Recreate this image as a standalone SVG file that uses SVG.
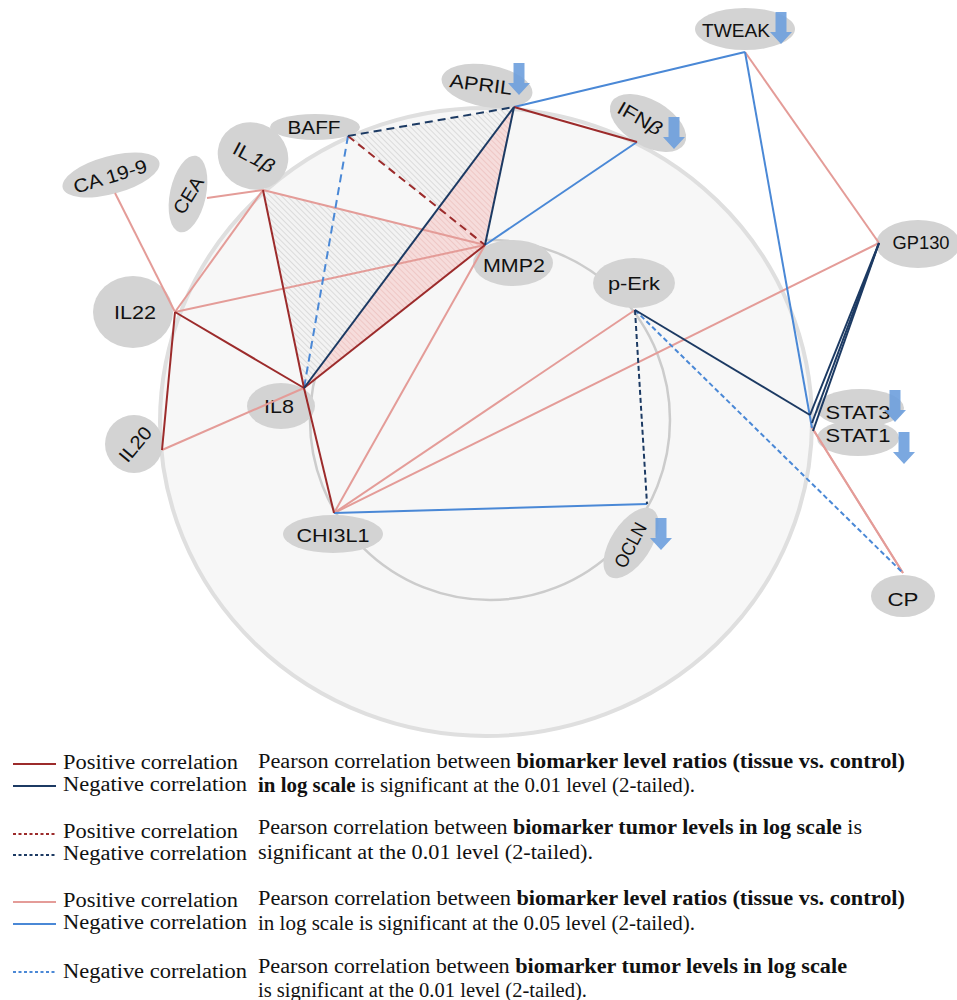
<svg xmlns="http://www.w3.org/2000/svg" xmlns:xlink="http://www.w3.org/1999/xlink" width="957" height="1000" viewBox="0 0 957 1000">
<style>
.nd{fill:#d3d3d3}
.lbl{font-family:"Liberation Sans",Arial,sans-serif;font-size:19px;fill:#111;text-anchor:middle}
.e{fill:none;stroke-width:2}
.dr{stroke:#9c2b2b}
.db{stroke:#1c3a63}
.lr{stroke:#e49c98}
.lb{stroke:#4a88d6}
.dl{stroke-dasharray:8 5}
.ds{stroke-dasharray:5 3}
.dot{fill:none;stroke-width:2;stroke-dasharray:3 2.5}
.lg{font-family:"Liberation Serif","Times New Roman",serif;font-size:20px;fill:#111}
.b{font-weight:bold}
.arr{fill:#6d9fdd;opacity:0.9}
</style>
<defs>
<pattern id="hg" width="4" height="4" patternUnits="userSpaceOnUse" patternTransform="rotate(-45)">
<rect width="4" height="4" fill="#f3f3f3"/>
<line x1="0" y1="0" x2="0" y2="4" stroke="#c4c4c4" stroke-width="1"/>
</pattern>
<pattern id="hp" width="4" height="4" patternUnits="userSpaceOnUse" patternTransform="rotate(-45)">
<rect width="4" height="4" fill="#f6dcdb"/>
<line x1="0" y1="0" x2="0" y2="4" stroke="#e6b2af" stroke-width="1"/>
</pattern>
<path id="arr" d="M-5.5,0 H5.5 V20 H11 L0,32 L-11,20 H-5.5 Z"/>
</defs>
<rect width="957" height="1000" fill="#ffffff"/>
<g id="background">
<ellipse cx="486" cy="422" rx="326" ry="314" fill="#f7f7f7" stroke="#dfdfdf" stroke-width="4"/>
<circle cx="490" cy="420" r="180" fill="none" stroke="#cccccc" stroke-width="2.5"/>
<polygon points="263,190 304,388 485,245" fill="url(#hg)"/>
<polygon points="348,136 514,107 485,245" fill="url(#hg)"/>
<polygon points="514,107 485,245 304,388" fill="url(#hp)"/>
</g>
<g id="n-ca199"><ellipse class="nd" cx="111" cy="175" rx="50" ry="19" transform="rotate(-15 111 175)"/><text class="lbl" x="110" y="183" textLength="76" lengthAdjust="spacingAndGlyphs" transform="rotate(-17 110 176)">CA 19-9</text></g>
<g id="n-cea"><ellipse class="nd" cx="188" cy="194" rx="18" ry="39" transform="rotate(12 188 194)"/><text class="lbl" x="188" y="202" textLength="40" lengthAdjust="spacingAndGlyphs" transform="rotate(-58 188 195)">CEA</text></g>
<g id="n-il1b"><ellipse class="nd" cx="253" cy="156" rx="36" ry="33" transform="rotate(30 253 156)"/><text class="lbl" x="254" y="164" textLength="44" lengthAdjust="spacingAndGlyphs" transform="rotate(28 254 157)">IL<tspan font-style="italic" dx="2">1β</tspan></text></g>
<g id="n-baff"><ellipse class="nd" cx="315" cy="127" rx="45" ry="13"/><text class="lbl" x="314" y="134" textLength="53" lengthAdjust="spacingAndGlyphs">BAFF</text></g>
<g id="n-april"><ellipse class="nd" cx="487" cy="86" rx="46" ry="21" transform="rotate(10 487 86)"/><text class="lbl" x="481" y="91" textLength="63" lengthAdjust="spacingAndGlyphs" transform="rotate(7 481 84)">APRIL</text><use href="#arr" class="arr" x="519" y="63"/></g>
<g id="n-tweak"><ellipse class="nd" cx="745" cy="29" rx="50" ry="21"/><text class="lbl" x="736" y="37" textLength="68" lengthAdjust="spacingAndGlyphs">TWEAK</text><use href="#arr" class="arr" x="781" y="12"/></g>
<g id="n-ifnb"><ellipse class="nd" cx="648" cy="123" rx="42" ry="23" transform="rotate(30 648 123)"/><text class="lbl" x="640" y="125" textLength="48" lengthAdjust="spacingAndGlyphs" transform="rotate(30 640 118)">IFN<tspan font-style="italic">β</tspan></text><use href="#arr" class="arr" x="674" y="117"/></g>
<g id="n-mmp2"><ellipse class="nd" cx="513" cy="263" rx="40" ry="23"/><text class="lbl" x="514" y="272" textLength="62" lengthAdjust="spacingAndGlyphs">MMP2</text></g>
<g id="n-perk"><ellipse class="nd" cx="634" cy="283" rx="41" ry="25"/><text class="lbl" x="634" y="290" textLength="52" lengthAdjust="spacingAndGlyphs">p-Erk</text></g>
<g id="n-gp130"><ellipse class="nd" cx="918" cy="244" rx="42" ry="24"/><text class="lbl" x="921" y="249" textLength="57" lengthAdjust="spacingAndGlyphs">GP130</text></g>
<g id="n-stat"><ellipse class="nd" cx="860" cy="408" rx="44" ry="19"/><ellipse class="nd" cx="858" cy="438" rx="41" ry="18"/><text class="lbl" x="858" y="419" textLength="65" lengthAdjust="spacingAndGlyphs">STAT3</text><text class="lbl" x="858" y="442" textLength="65" lengthAdjust="spacingAndGlyphs">STAT1</text><use href="#arr" class="arr" x="895" y="390"/><use href="#arr" class="arr" x="904" y="432"/></g>
<g id="n-cp"><ellipse class="nd" cx="903" cy="596" rx="32" ry="21"/><text class="lbl" x="903" y="606" textLength="31" lengthAdjust="spacingAndGlyphs">CP</text></g>
<g id="n-ocln"><ellipse class="nd" cx="631" cy="543" rx="40" ry="20" transform="rotate(-57 631 543)"/><text class="lbl" x="630" y="552" textLength="48" lengthAdjust="spacingAndGlyphs" transform="rotate(-62 630 545)">OCLN</text><use href="#arr" class="arr" x="661" y="518"/></g>
<g id="n-chi3l1"><ellipse class="nd" cx="333" cy="534" rx="50" ry="19"/><text class="lbl" x="333" y="542" textLength="73" lengthAdjust="spacingAndGlyphs">CHI3L1</text></g>
<g id="n-il8"><ellipse class="nd" cx="281" cy="406" rx="34" ry="23"/><text class="lbl" x="279" y="413" textLength="30" lengthAdjust="spacingAndGlyphs">IL8</text></g>
<g id="n-il22"><ellipse class="nd" cx="133" cy="312" rx="40" ry="36"/><text class="lbl" x="135" y="319" textLength="42" lengthAdjust="spacingAndGlyphs">IL22</text></g>
<g id="n-il20"><ellipse class="nd" cx="134" cy="444" rx="29" ry="29"/><text class="lbl" x="135" y="451" textLength="40" lengthAdjust="spacingAndGlyphs" transform="rotate(-50 135 444)">IL20</text></g>
<g id="connectors">
<line class="e lr" x1="115" y1="193" x2="175" y2="312"/>
<line class="e lr" x1="207" y1="198" x2="263" y2="190"/>
<line class="e lr" x1="263" y1="190" x2="175" y2="312"/>
<line class="e lr" x1="263" y1="190" x2="485" y2="245"/>
<line class="e lr" x1="175" y1="312" x2="485" y2="245"/>
<line class="e lr" x1="162" y1="450" x2="304" y2="388"/>
<line class="e lr" x1="334" y1="513" x2="485" y2="245"/>
<line class="e lr" x1="334" y1="513" x2="635" y2="310"/>
<line class="e lr" x1="334" y1="513" x2="879" y2="243"/>
<line class="e lr" x1="745" y1="52" x2="879" y2="243"/>
<line class="e lr" x1="811" y1="426" x2="903" y2="573"/>
<line class="e lr" x1="814" y1="431" x2="903" y2="573"/>
<line class="e lb" x1="514" y1="107" x2="745" y2="52"/>
<line class="e lb" x1="637" y1="142" x2="485" y2="245"/>
<line class="e lb" x1="745" y1="52" x2="812" y2="428"/>
<line class="e lb" x1="334" y1="513" x2="647" y2="504"/>
<line class="e lb dl" x1="348" y1="136" x2="304" y2="388"/>
<line class="e lb ds" x1="635" y1="310" x2="903" y2="573"/>
<line class="e dr" x1="263" y1="190" x2="304" y2="388"/>
<line class="e dr" x1="175" y1="312" x2="304" y2="388"/>
<line class="e dr" x1="175" y1="312" x2="162" y2="450"/>
<line class="e dr" x1="304" y1="388" x2="485" y2="245"/>
<line class="e dr" x1="304" y1="388" x2="334" y2="513"/>
<line class="e dr" x1="514" y1="107" x2="637" y2="142"/>
<line class="e dr dl" x1="348" y1="136" x2="485" y2="245"/>
<line class="e db" x1="514" y1="107" x2="304" y2="388"/>
<line class="e db" x1="514" y1="107" x2="485" y2="245"/>
<line class="e db" x1="635" y1="310" x2="810" y2="415"/>
<line class="e db" x1="879" y1="243" x2="810" y2="415"/>
<line class="e db" x1="879" y1="243" x2="812" y2="423"/>
<line class="e db" x1="879" y1="243" x2="813" y2="431"/>
<line class="e db dl" x1="348" y1="136" x2="514" y2="107"/>
<line class="e db ds" x1="635" y1="310" x2="647" y2="504"/>
</g>
<g id="legend">
<line class="e dr" x1="13" y1="764" x2="56" y2="764" stroke-width="2.5"/>
<line class="e db" x1="13" y1="786" x2="56" y2="786" stroke-width="2.5"/>
<line class="dot dr" x1="13" y1="834" x2="56" y2="834"/>
<line class="dot db" x1="13" y1="855" x2="56" y2="855"/>
<line class="e lr" x1="13" y1="902" x2="56" y2="902" stroke-width="2.5"/>
<line class="e lb" x1="13" y1="924" x2="56" y2="924" stroke-width="2.5"/>
<line class="dot lb" x1="13" y1="972" x2="56" y2="972"/>
<text class="lg" x="63" y="769" textLength="175" lengthAdjust="spacingAndGlyphs">Positive correlation</text>
<text class="lg" x="63" y="791" textLength="184" lengthAdjust="spacingAndGlyphs">Negative correlation</text>
<text class="lg" x="63" y="838" textLength="175" lengthAdjust="spacingAndGlyphs">Positive correlation</text>
<text class="lg" x="63" y="860" textLength="184" lengthAdjust="spacingAndGlyphs">Negative correlation</text>
<text class="lg" x="63" y="907" textLength="175" lengthAdjust="spacingAndGlyphs">Positive correlation</text>
<text class="lg" x="63" y="929" textLength="184" lengthAdjust="spacingAndGlyphs">Negative correlation</text>
<text class="lg" x="63" y="978" textLength="184" lengthAdjust="spacingAndGlyphs">Negative correlation</text>
<text class="lg" x="258" y="768" textLength="647" lengthAdjust="spacingAndGlyphs">Pearson correlation between <tspan class="b">biomarker level ratios (tissue vs. control)</tspan></text>
<text class="lg" x="258" y="792" textLength="437" lengthAdjust="spacingAndGlyphs"><tspan class="b">in log scale</tspan> is significant at the 0.01 level (2-tailed).</text>
<text class="lg" x="258" y="834" textLength="604" lengthAdjust="spacingAndGlyphs">Pearson correlation between <tspan class="b">biomarker tumor levels in log scale</tspan> is</text>
<text class="lg" x="258" y="859" textLength="335" lengthAdjust="spacingAndGlyphs">significant at the 0.01 level (2-tailed).</text>
<text class="lg" x="258" y="905" textLength="647" lengthAdjust="spacingAndGlyphs">Pearson correlation between <tspan class="b">biomarker level ratios (tissue vs. control)</tspan></text>
<text class="lg" x="258" y="930" textLength="437" lengthAdjust="spacingAndGlyphs">in log scale is significant at the 0.05 level (2-tailed).</text>
<text class="lg" x="258" y="973" textLength="589" lengthAdjust="spacingAndGlyphs">Pearson correlation between <tspan class="b">biomarker tumor levels in log scale</tspan></text>
<text class="lg" x="258" y="997" textLength="329" lengthAdjust="spacingAndGlyphs">is significant at the 0.01 level (2-tailed).</text>
</g>
</svg>
